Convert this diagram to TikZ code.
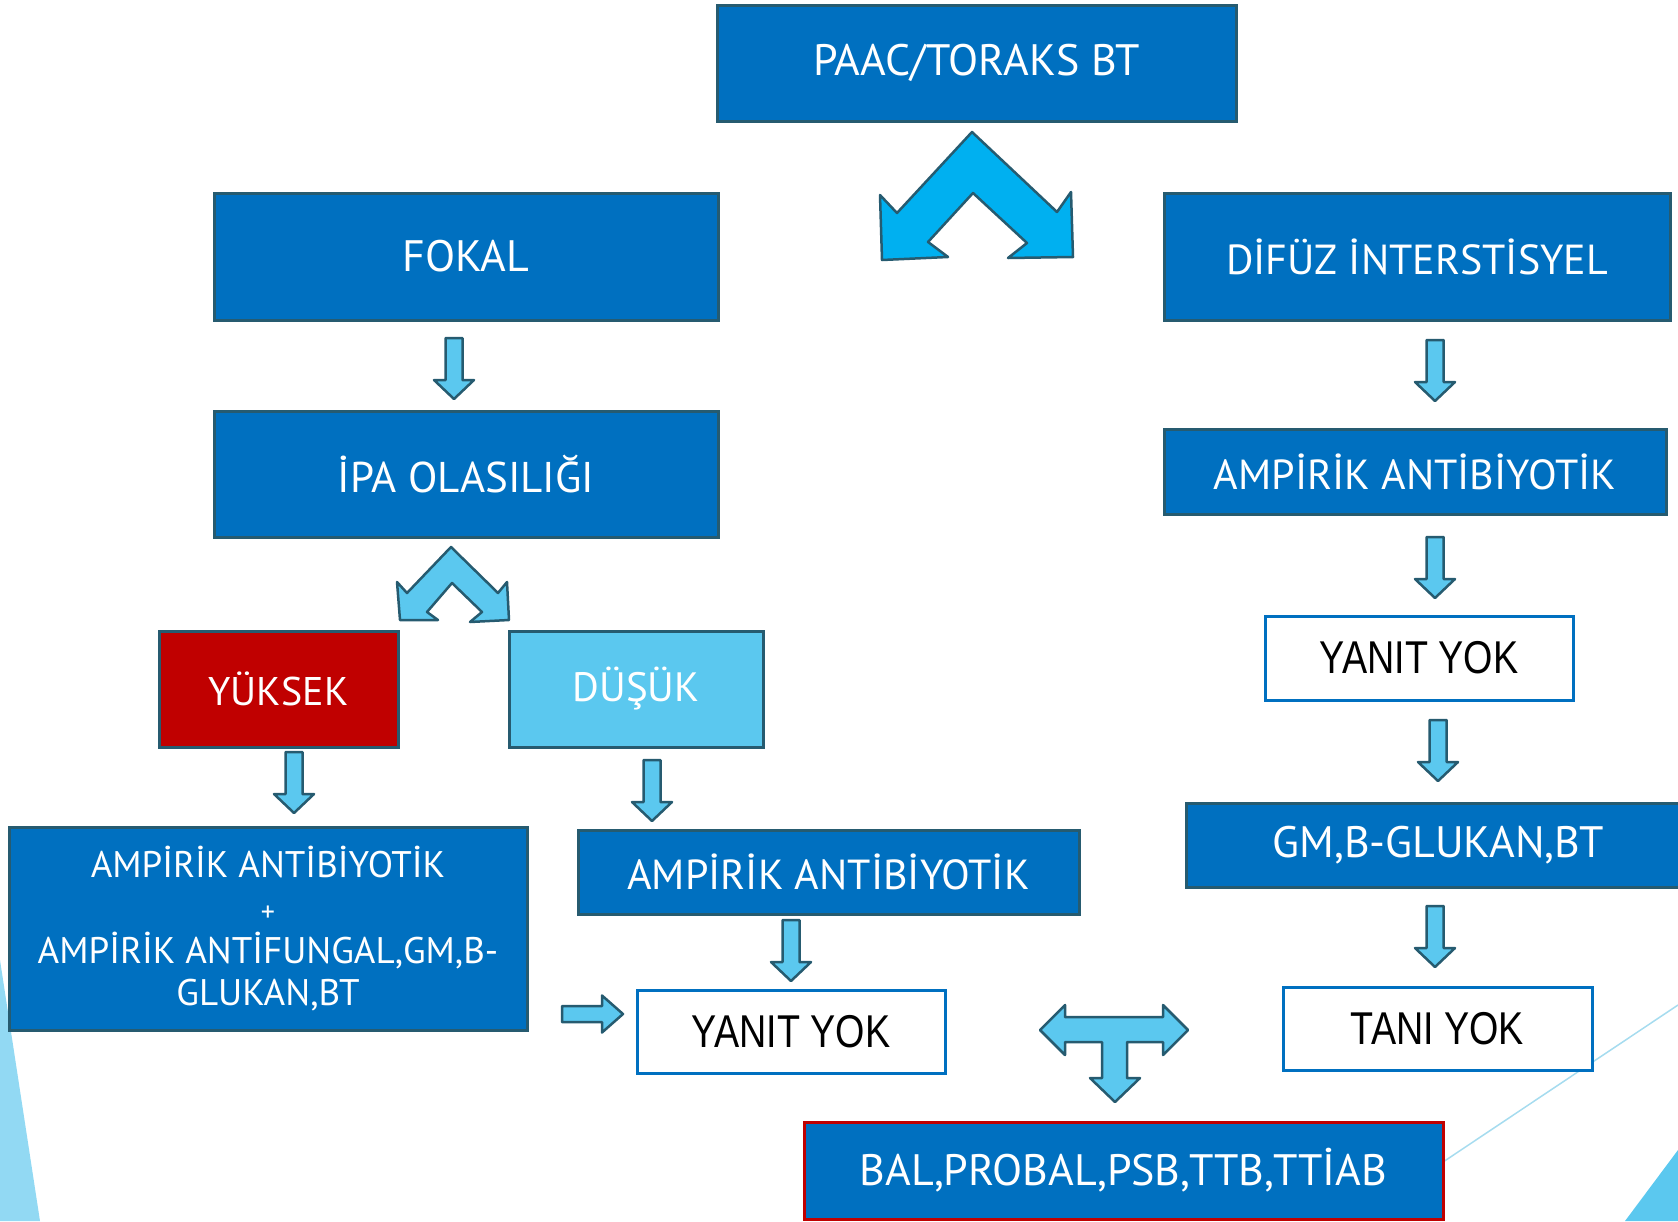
\documentclass[tikz,border=0pt]{standalone}
\usepackage{fontspec}
\setmainfont{PT Sans}
\newfontfamily\narrowfont[FakeStretch=0.82]{Liberation Sans}
\definecolor{boxblue}{HTML}{0070C0}
\definecolor{edgeteal}{HTML}{265B70}
\definecolor{arrowblue}{HTML}{5BC8EF}
\definecolor{chevblue}{HTML}{00B0F0}
\definecolor{boxred}{HTML}{C00000}
\definecolor{bgblue}{HTML}{92D9F3}
\definecolor{lineblue}{HTML}{A6DCEF}
\begin{document}
\begin{tikzpicture}[x=1pt,y=-1pt,
  bluebox/.style={draw=edgeteal, line width=3pt, fill=boxblue, text=white, font=\fontsize{44}{50}\selectfont, inner sep=0pt, align=center},
  whitebox/.style={draw=boxblue, line width=3pt, fill=white, text=black, font=\narrowfont\fontsize{46}{52}\selectfont, inner sep=0pt},
  blockarrow/.style={draw=edgeteal, line width=2.5pt, fill=arrowblue, line join=round},
  downarr/.pic={\path[blockarrow] (-8.5,0) -- (8.5,0) -- (8.5,42) -- (20,42) -- (0,61) -- (-20,42) -- (-8.5,42) -- cycle;},
  rightarr/.pic={\path[blockarrow] (0,-8) -- (40,-8) -- (40,-18.5) -- (61,0) -- (40,18.5) -- (40,8) -- (0,8) -- cycle;}
]
\useasboundingbox (0,0) rectangle (1678,1221);
% background decoration
\fill[bgblue] (0,960) -- (40,1221) -- (0,1221) -- cycle;
\draw[lineblue, line width=1.5pt] (1443,1162) -- (1678,1005);
\fill[arrowblue] (1625,1221) -- (1678,1150) -- (1678,1221) -- cycle;

% boxes
\node[bluebox, minimum width=519, minimum height=116] (paac) at (976.5,63) {PAAC/TORAKS BT};
\node[bluebox, minimum width=504, minimum height=127] (fokal) at (466,256.5) {FOKAL};
\node[bluebox, minimum width=506, minimum height=127, font=\fontsize{42}{50}\selectfont] (difuz) at (1417,256.5) {DİFÜZ İNTERSTİSYEL};
\node[bluebox, minimum width=504, minimum height=126, font=\fontsize{43}{50}\selectfont] (ipa) at (466,474) {İPA OLASILIĞI};
\node[bluebox, minimum width=502, minimum height=85, font=\fontsize{42}{50}\selectfont] (ampR) at (1415,471.5) {AMPİRİK ANTİBİYOTİK};
\node[whitebox, minimum width=308, minimum height=84] (yanitR) at (1419,658) {YANIT YOK};
\node[bluebox, minimum width=503, minimum height=84] (gm) at (1438,845) {GM,B-GLUKAN,BT};
\node[whitebox, minimum width=309, minimum height=83] (tani) at (1437.5,1028.5) {TANI YOK};
\node[bluebox, fill=boxred, minimum width=239, minimum height=116, font=\fontsize{40}{50}\selectfont] (yuksek) at (278.5,689) {YÜKSEK};
\node[bluebox, fill=arrowblue, minimum width=254, minimum height=116, font=\fontsize{41}{50}\selectfont] (dusuk) at (636,689) {DÜŞÜK};
\node[bluebox, minimum width=518, minimum height=203, font=\fontsize{37}{40}\selectfont] (ampL) at (268,928.5)
  {AMPİRİK ANTİBİYOTİK\\[4pt]{\fontsize{28}{30}\selectfont +}\\[2pt]AMPİRİK ANTİFUNGAL,GM,B-\\[2pt]GLUKAN,BT};
\node[bluebox, minimum width=501, minimum height=84, font=\fontsize{42}{50}\selectfont] (ampM) at (828.5,872) {AMPİRİK ANTİBİYOTİK};
\node[whitebox, minimum width=308, minimum height=83] (yanitM) at (791,1031.5) {YANIT YOK};
\node[bluebox, draw=boxred, minimum width=639, minimum height=97] (bal) at (1123.5,1170.5) {BAL,PROBAL,PSB,TTB,TTİAB};

% big chevron
\path[blockarrow, fill=chevblue] (972,132) -- (1057,212) -- (1071,192) -- (1073,257) -- (1008,258) -- (1027,243) -- (973,193) -- (928,242) -- (948,257) -- (882,260) -- (880,195) -- (897,213) -- cycle;
% small chevron
\path[blockarrow] (451,547) -- (498,593) -- (507,582) -- (509,620) -- (470,622) -- (482,612) -- (452,583) -- (427,612) -- (438,620) -- (400,620) -- (397,582) -- (407,593) -- cycle;

% down arrows
\pic at (454,338) {downarr};
\pic at (1435,340) {downarr};
\pic at (1435,537) {downarr};
\pic at (1438,720) {downarr};
\pic at (1435,906) {downarr};
\pic at (294,752) {downarr};
\pic at (652,760) {downarr};
\pic at (791,920) {downarr};
% right arrow
\pic at (562,1014) {rightarr};
% T arrow
\path[blockarrow] (1040,1030) -- (1065,1005) -- (1065,1017) -- (1163,1017) -- (1163,1005) -- (1188,1030) -- (1163,1055) -- (1163,1042) -- (1127,1042) -- (1127,1078) -- (1140,1078) -- (1115,1102) -- (1090,1078) -- (1102,1078) -- (1102,1042) -- (1065,1042) -- (1065,1055) -- cycle;
\end{tikzpicture}
\end{document}
